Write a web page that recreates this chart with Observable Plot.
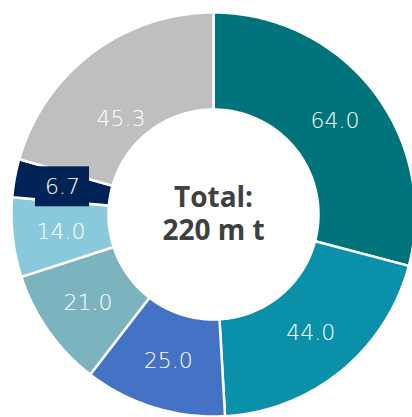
<!DOCTYPE html>
<html>
<head>
<meta charset="utf-8">
<script src="https://cdn.jsdelivr.net/npm/d3@7"></script>
<script src="https://cdn.jsdelivr.net/npm/@observablehq/plot@0.6"></script>
<style>
  html, body { margin: 0; padding: 0; background: #ffffff; }
  #chart svg { display: block; }
</style>
</head>
<body>
<div id="chart"></div>
<script>
// ---- data ----
const categories = ["A", "B", "C", "D", "E", "F", "G"];
const values = [64.0, 44.0, 25.0, 21.0, 14.0, 6.7, 45.3];
const labels = ["64.0", "44.0", "25.0", "21.0", "14.0", "6.7", "45.3"];
const colors = ["#00737B", "#0A90A9", "#4472C4", "#7BB4BE", "#89C9DB", "#002356", "#BFBFBF"];
const centerLines = ["Total:", "220 m t"];

// ---- geometry (chart units: outer radius = 1) ----
const W = 412, H = 417;
const cx = 213, cy = 214, R = 202;   // pixel layout of the donut
const inner = 105 / R;

const pie = d3.pie().sort(null).value(d => d)(values);

const polys = [];
pie.forEach((p, i) => {
  const a0 = p.startAngle, a1 = p.endAngle;
  const n = Math.max(8, Math.ceil((a1 - a0) / (Math.PI / 180)));
  const pts = [];
  for (let k = 0; k <= n; k++) {
    const a = a0 + (a1 - a0) * k / n;
    pts.push({x: Math.sin(a), y: Math.cos(a)});
  }
  for (let k = n; k >= 0; k--) {
    const a = a0 + (a1 - a0) * k / n;
    pts.push({x: inner * Math.sin(a), y: inner * Math.cos(a)});
  }
  pts.push(pts[0]);
  pts.forEach(pt => polys.push({...pt, cat: categories[i], color: colors[i]}));
});

// label placement: slice centroids; the grey slice's label sits somewhat lower
const labelR = (1 + inner) / 2;
const downShiftPx = {G: 27};
const labelData = pie.map((p, i) => {
  const a = (p.startAngle + p.endAngle) / 2;
  const shift = (downShiftPx[categories[i]] || 0) / R;
  return {x: labelR * Math.sin(a), y: labelR * Math.cos(a) - shift, text: labels[i], cat: categories[i], color: colors[i]};
});

// label box for the small navy slice
const boxW = 54 / R, boxH = 40 / R;
const boxed = labelData.filter(d => d.cat === "F").map(d => ({
  x1: d.x - boxW / 2, x2: d.x + boxW / 2, y1: d.y - boxH / 2, y2: d.y + boxH / 2, color: d.color
}));

const chart = Plot.plot({
  width: W,
  height: H,
  margin: 0,
  style: {background: "#ffffff", fontFamily: "'DejaVu Sans', sans-serif"},
  x: {domain: [-cx / R, (W - cx) / R], axis: null},
  y: {domain: [-(H - cy) / R, cy / R], axis: null},
  marks: [
    Plot.line(polys, {x: "x", y: "y", z: "cat", fill: "color", stroke: "#ffffff", strokeWidth: 2.5, curve: "linear"}),
    Plot.rect(boxed, {x1: "x1", x2: "x2", y1: "y1", y2: "y2", fill: "color"}),
    Plot.text(labelData, {x: "x", y: "y", text: "text", fill: "#ffffff", fontSize: 22, fontWeight: 200, letterSpacing: "0.5px", fontFamily: "'DejaVu Sans', sans-serif"}),
    Plot.text([centerLines[0]], {x: () => 0, y: () => 0, dy: -16, text: d => d, fill: "#404040", fontSize: 28, fontWeight: "bold", fontFamily: "'Open Sans', sans-serif", letterSpacing: "1px"}),
    Plot.text([centerLines[1]], {x: () => 0, y: () => 0, dy: 17, text: d => d, fill: "#404040", fontSize: 28, fontWeight: "bold", fontFamily: "'Open Sans', sans-serif", letterSpacing: "1px"})
  ]
});

document.getElementById("chart").appendChild(chart);
</script>
</body>
</html>
